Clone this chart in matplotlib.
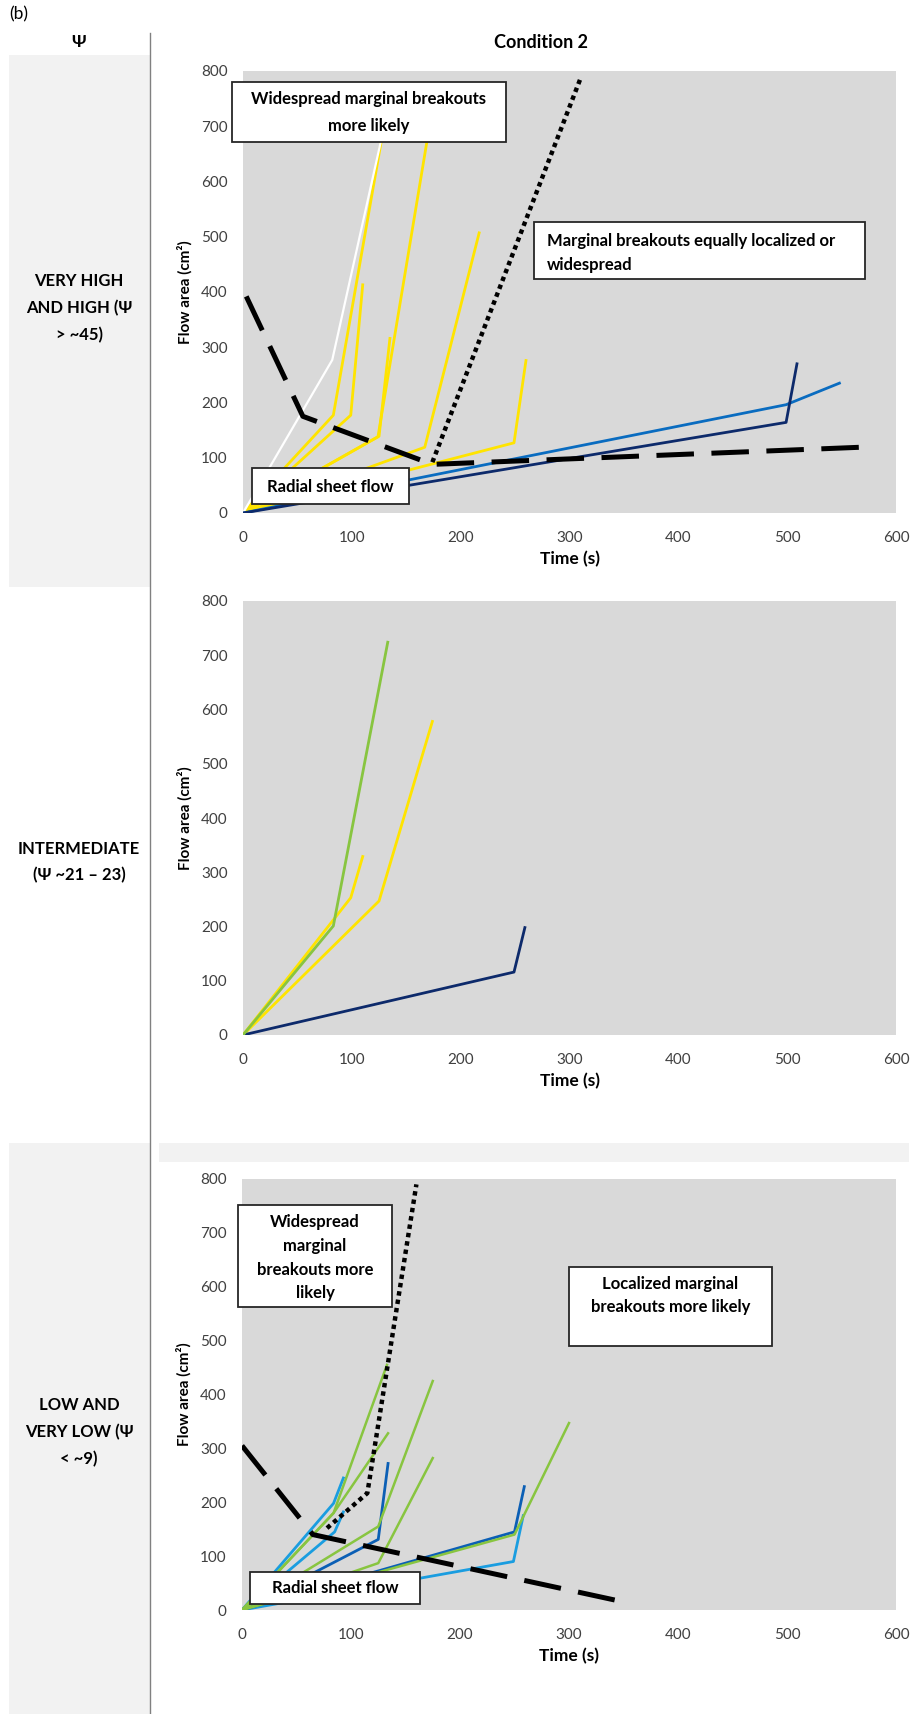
import matplotlib.pyplot as plt
from matplotlib.patches import Rectangle

plt.rcParams['font.family'] = ['Lato', 'DejaVu Sans']

# ---------------------------------------------------------------
# data: time (s) and flow area (cm2)

# panel 1: very high and high
top_yellow_t = [[0, 83, 133], [0, 99, 110], [0, 125, 135], [0, 124, 173], [0, 167, 217], [0, 249, 260]]
top_yellow_a = [[0, 177, 740], [0, 177, 413], [0, 139, 316], [0, 138, 720], [0, 119, 507], [0, 127, 276]]
top_white_t = [0, 82, 132]
top_white_a = [0, 277, 720]
top_blue_t = [0, 499, 548]
top_blue_a = [0, 196, 235]
top_navy_t = [0, 499, 509]
top_navy_a = [0, 164, 270]
top_dash_t = [3, 55, 174, 580]
top_dash_a = [392, 175, 88, 120]
top_dot_t = [174, 310]
top_dot_a = [92, 786]

# panel 2: intermediate
mid_green_t = [0, 83, 133]
mid_green_a = [0, 201, 724]
mid_yellow_t = [[0, 99, 110], [0, 125, 174]]
mid_yellow_a = [[0, 253, 329], [0, 247, 578]]
mid_navy_t = [0, 249, 259]
mid_navy_a = [0, 116, 198]

# panel 3: low and very low
bot_green_t = [[0, 84, 133], [0, 84, 134], [0, 125, 175], [0, 125, 175], [0, 250, 300]]
bot_green_a = [[0, 180, 455], [0, 180, 328], [0, 155, 425], [0, 87, 282], [0, 140, 347]]
bot_lblue_t = [[0, 84, 93], [0, 85, 93], [0, 249, 258]]
bot_lblue_a = [[0, 198, 245], [0, 145, 182], [0, 90, 175]]
bot_dblue_t = [[0, 125, 134], [0, 250, 259]]
bot_dblue_a = [[0, 131, 272], [0, 145, 229]]
bot_dash_t = [0, 65, 350]
bot_dash_a = [305, 140, 15]
bot_dot_t = [78, 115, 160]
bot_dot_a = [152, 217, 790]

x_ticks = [0, 100, 200, 300, 400, 500, 600]
y_ticks = [0, 100, 200, 300, 400, 500, 600, 700, 800]

YELLOW = '#ffe400'
GREEN = '#88c540'
NAVY = '#0d2a6b'
BLUE = '#0a6cc0'
LBLUE = '#1a9de0'
DBLUE = '#0b5fb5'

# ---------------------------------------------------------------
W, H = 912, 1714
fig = plt.figure(figsize=(W / 100, H / 100), dpi=100)


def fx(x):
    return x / W


def fy(y):
    return 1 - y / H


def make_axes(l, t, r, b):
    ax = fig.add_axes([fx(l), fy(b), (r - l) / W, (b - t) / H])
    ax.set_facecolor('#d9d9d9')
    ax.set_xlim(0, 600)
    ax.set_ylim(0, 800)
    ax.set_xticks(x_ticks)
    ax.set_yticks(y_ticks)
    ax.tick_params(length=0, labelsize=11, labelcolor='#404040')
    ax.tick_params(axis='x', pad=13)
    ax.tick_params(axis='y', pad=11)
    for s in ax.spines.values():
        s.set_visible(False)
    ax.set_xlabel('Time (s)', fontsize=12.5, fontweight='bold', labelpad=4)
    ax.set_ylabel('Flow area (cm²)', fontsize=11, fontweight='bold', labelpad=6)
    return ax


def text_box(x0, y0, x1, y1, lines, ys, xs=None, ha='center'):
    fig.add_artist(Rectangle((fx(x0), fy(y1)), (x1 - x0) / W, (y1 - y0) / H,
                             transform=fig.transFigure, fc='white', ec='#262626',
                             lw=1.3, zorder=5))
    if xs is None:
        xs = (x0 + x1) / 2
    for txt, y in zip(lines, ys):
        fig.text(fx(xs), fy(y), txt, ha=ha, va='center', fontsize=12,
                 fontweight='bold', color='black', zorder=6)


def guide_lines(ax, dash_t, dash_a, dot_t, dot_a):
    ax.plot(dash_t, dash_a, color='black', lw=3.6, dashes=(7.5, 3.5), zorder=4)
    ax.plot(dot_t, dot_a, color='black', lw=3.2, dashes=(1, 0.9),
            dash_capstyle='butt', zorder=4)


# left column and header
fig.add_artist(Rectangle((fx(9), fy(587)), 141 / W, 532 / H, transform=fig.transFigure,
                         fc='#f2f2f2', ec='none', zorder=0))
fig.add_artist(Rectangle((fx(9), fy(1714)), 141 / W, 571 / H, transform=fig.transFigure,
                         fc='#f2f2f2', ec='none', zorder=0))
fig.add_artist(Rectangle((fx(159), fy(1162)), 750 / W, 19 / H, transform=fig.transFigure,
                         fc='#f2f2f2', ec='none', zorder=0))
fig.add_artist(plt.Line2D([fx(150), fx(150)], [fy(33), fy(1714)], transform=fig.transFigure,
                          color='#808080', lw=1))

fig.text(fx(9), fy(14), '(b)', ha='left', va='center', fontsize=12.5)
fig.text(fx(79), fy(42), 'Ψ', ha='center', va='center', fontsize=12.5, fontweight='bold')
fig.text(fx(541), fy(42), 'Condition 2', ha='center', va='center', fontsize=13, fontweight='bold')

fig.text(fx(79), fy(308), 'VERY HIGH\nAND HIGH (Ψ\n> ~45)', ha='center', va='center',
         fontsize=12, fontweight='bold', linespacing=1.8)
fig.text(fx(79), fy(862), 'INTERMEDIATE\n(Ψ ~21 – 23)', ha='center', va='center',
         fontsize=12, fontweight='bold', linespacing=1.8)
fig.text(fx(79), fy(1432), 'LOW AND\nVERY LOW (Ψ\n< ~9)', ha='center', va='center',
         fontsize=12, fontweight='bold', linespacing=1.8)

# ---------------------------------------------------------------
# panel 1
ax1 = make_axes(243, 71, 896, 513)
for t, a in zip(top_yellow_t, top_yellow_a):
    ax1.plot(t, a, color=YELLOW, lw=2.0)
ax1.plot(top_white_t, top_white_a, color='white', lw=1.6)
ax1.plot(top_blue_t, top_blue_a, color=BLUE, lw=2.0)
ax1.plot(top_navy_t, top_navy_a, color=NAVY, lw=2.0)
guide_lines(ax1, top_dash_t, top_dash_a, top_dot_t, top_dot_a)

text_box(232, 82, 506, 142, ['Widespread marginal breakouts', 'more likely'], [99, 126])
text_box(534, 222, 865, 279, ['Marginal breakouts equally localized or', 'widespread'],
         [241, 265], xs=547, ha='left')
text_box(252, 468, 409, 504, ['Radial sheet flow'], [487])

# panel 2
ax2 = make_axes(243, 601, 896, 1035)
ax2.plot(mid_green_t, mid_green_a, color=GREEN, lw=2.0, zorder=3)
for t, a in zip(mid_yellow_t, mid_yellow_a):
    ax2.plot(t, a, color=YELLOW, lw=2.0)
ax2.plot(mid_navy_t, mid_navy_a, color=NAVY, lw=2.0)

# panel 3
ax3 = make_axes(242, 1179, 896, 1610)
for t, a in zip(bot_lblue_t, bot_lblue_a):
    ax3.plot(t, a, color=LBLUE, lw=2.0)
for t, a in zip(bot_dblue_t, bot_dblue_a):
    ax3.plot(t, a, color=DBLUE, lw=2.0)
for t, a in zip(bot_green_t, bot_green_a):
    ax3.plot(t, a, color=GREEN, lw=1.8)
guide_lines(ax3, bot_dash_t, bot_dash_a, bot_dot_t, bot_dot_a)

text_box(238, 1205, 392, 1307, ['Widespread', 'marginal', 'breakouts more', 'likely'],
         [1222, 1246, 1270, 1293], xs=315)
text_box(569, 1267, 772, 1346, ['Localized marginal', 'breakouts more likely'], [1284, 1307])
text_box(250, 1572, 420, 1604, ['Radial sheet flow'], [1588])

fig.savefig('out.png', dpi=100, facecolor='white')
